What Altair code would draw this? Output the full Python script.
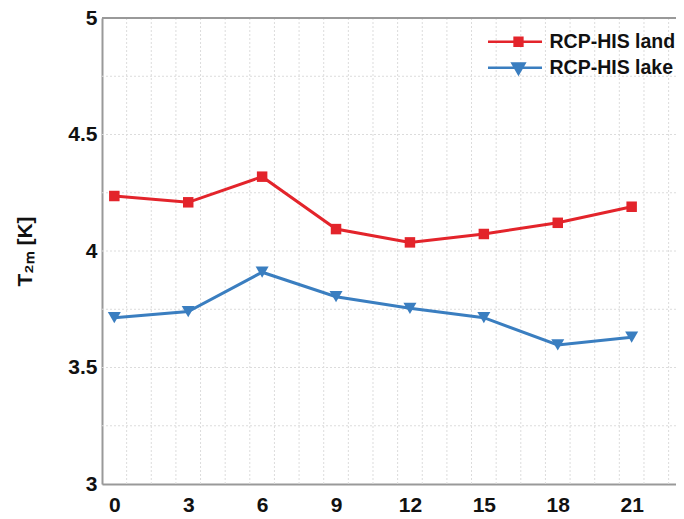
import altair as alt
import pandas as pd

hours = [0, 3, 6, 9, 12, 15, 18, 21]
land = [4.236, 4.209, 4.319, 4.094, 4.037, 4.073, 4.121, 4.19]
lake = [3.714, 3.74, 3.909, 3.804, 3.754, 3.714, 3.597, 3.63]
series_names = ["RCP-HIS land", "RCP-HIS lake"]
colors = ["#E3242B", "#3A7EC0"]
marker_shapes = ["square", "triangle-down"]
marker_sizes = [110, 170]
x_ticks = [0, 3, 6, 9, 12, 15, 18, 21]
y_ticks = [3, 3.5, 4, 4.5, 5]
x_grid = [0.5 + i for i in range(23)]
y_grid = [3.25, 3.5, 3.75, 4, 4.25, 4.5, 4.75]

xscale = alt.Scale(domain=[-0.5, 22.8], nice=False, zero=False)
yscale = alt.Scale(domain=[3, 5], nice=False, zero=False)

grid_style = dict(color="#dcdcdc", strokeDash=[2, 2], strokeWidth=1)

xgrid = alt.Chart(pd.DataFrame({"g": x_grid})).mark_rule(**grid_style).encode(
    x=alt.X("g:Q", scale=xscale)
)
ygrid = alt.Chart(pd.DataFrame({"g": y_grid})).mark_rule(**grid_style).encode(
    y=alt.Y("g:Q", scale=yscale)
)
top_border = alt.Chart(pd.DataFrame({"g": [5]})).mark_rule(color="#999999", strokeWidth=2).encode(
    y=alt.Y("g:Q", scale=yscale)
)

legend_paths = [
    "M-8.29,0H0.71M-3.86,-0.65H-2.56V0.65H-3.86Z",
    "M-8.29,0H0.71M-4.2,-0.7H-2.22L-3.21,1.0Z",
]
legend_y = [14, 40]

x_axis = alt.Axis(
    values=x_ticks,
    title=None,
    grid=False,
    ticks=False,
    labelFontSize=21,
    labelFont="Liberation Sans",
    labelFontWeight="bold",
    labelColor="#111111",
    labelPadding=10,
    domainColor="#999999",
    domainWidth=2,
)
y_axis = alt.Axis(
    values=y_ticks,
    title="T₂ₘ [K]",
    grid=False,
    ticks=False,
    labelFontSize=21,
    labelFont="Liberation Sans",
    labelFontWeight="bold",
    labelColor="#111111",
    labelPadding=5,
    labelExpr="datum.value == 3 || datum.value == 4 || datum.value == 5 ? format(datum.value, 'd') : format(datum.value, '.1f')",
    domainColor="#999999",
    domainWidth=2,
    titleFontSize=21,
    titleFont="Liberation Sans",
    titleFontWeight="bold",
    titleColor="#111111",
    titleX=-71,
    titleY=233,
    titleBaseline="alphabetic",
)


def series_layer(i, values):
    df = pd.DataFrame({"hour": hours, "T": values, "series": [series_names[i]] * len(hours)})
    cscale = alt.Scale(domain=[series_names[i]], range=[colors[i]])

    def lg():
        return alt.Legend(
            title=None,
            orient="none",
            legendX=426,
            legendY=legend_y[i],
            padding=0,
            symbolType=legend_paths[i],
            symbolSize=144,
            symbolStrokeWidth=2.5,
            symbolStrokeColor=colors[i],
            symbolFillColor=colors[i],
            symbolOpacity=1,
            labelOffset=2,
            labelFontSize=19.5,
            labelFont="Liberation Sans",
            labelFontWeight="bold",
            labelColor="#111111",
        )

    base = alt.Chart(df)
    line = base.mark_line(strokeWidth=3).encode(
        x=alt.X("hour:Q", scale=xscale, axis=x_axis),
        y=alt.Y("T:Q", scale=yscale, axis=y_axis),
        color=alt.Color("series:N", scale=cscale, legend=lg()),
    )
    pts = base.mark_point(filled=True, opacity=1, shape=marker_shapes[i], size=marker_sizes[i]).encode(
        x=alt.X("hour:Q", scale=xscale),
        y=alt.Y("T:Q", scale=yscale),
        color=alt.Color("series:N", scale=cscale, legend=lg()),
    )
    return alt.layer(line, pts)


chart = (
    alt.layer(xgrid, ygrid, top_border, series_layer(0, land), series_layer(1, lake))
    .resolve_scale(color="independent")
    .resolve_legend(color="independent")
    .properties(
        width=574,
        height=466,
        autosize=alt.AutoSizeParams(type="none"),
        padding={"left": 94, "top": 10, "right": 0, "bottom": 35},
    )
    .configure_view(stroke=None)
    .configure(background="white")
)

chart.save("out.html", embed_options={"renderer": "svg", "actions": False})
